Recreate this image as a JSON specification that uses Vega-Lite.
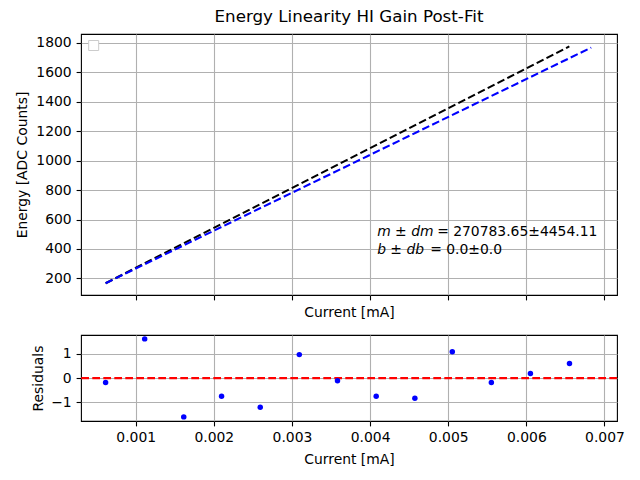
{
  "$schema": "https://vega.github.io/schema/vega-lite/v6.json",
  "padding": {"left": 14, "top": 8, "right": 5, "bottom": 5},
  "spacing": 14,
  "config": {
    "font": "DejaVu Sans",
    "view": {"stroke": "black", "strokeWidth": 1.1},
    "axis": {
      "labelFont": "DejaVu Sans", "labelFontSize": 13.9, "labelColor": "black",
      "titleFont": "DejaVu Sans", "titleFontSize": 13.9, "titleFontWeight": "normal", "titleColor": "black",
      "tickColor": "black", "tickSize": 4.9, "tickWidth": 1.1, "domain": false,
      "gridColor": "#b0b0b0", "gridWidth": 1.1, "gridOpacity": 1, "labelPadding": 4.9,
      "labelOverlap": false, "labelFlush": false
    }
  },
  "vconcat": [
    {
      "width": 536, "height": 261,
      "title": {"text": "Energy Linearity HI Gain Post-Fit", "font": "DejaVu Sans", "fontSize": 16.7, "fontWeight": "normal", "color": "black", "offset": 8, "frame": "group", "anchor": "middle"},
      "layer": [
        {
          "data": {"values": [
            {"current": 0.000615, "energy": 168, "series": "fit"},
            {"current": 0.00655, "energy": 1773.6, "series": "fit"},
            {"current": 0.000615, "energy": 168, "series": "data"},
            {"current": 0.00683, "energy": 1766, "series": "data"}
          ]},
          "mark": {"type": "line", "strokeDash": [7.7, 3.3], "strokeWidth": 2.08},
          "encoding": {
            "x": {"field": "current", "type": "quantitative", "scale": {"domain": [0.0003, 0.00716], "nice": false, "zero": false},
                  "axis": {"title": "Current [mA]", "values": [0.001, 0.002, 0.003, 0.004, 0.005, 0.006, 0.007], "tickCount": 20, "labels": false, "titlePadding": 5}},
            "y": {"field": "energy", "type": "quantitative", "scale": {"domain": [88, 1858], "nice": false, "zero": false},
                  "axis": {"title": "Energy [ADC Counts]", "values": [200, 400, 600, 800, 1000, 1200, 1400, 1600, 1800], "tickCount": 20, "format": "d", "labelOverlap": false, "labelFlush": false, "titleX": -59, "titleY": 130.5, "titleBaseline": "middle", "titleAlign": "center"}},
            "color": {"field": "series", "type": "nominal", "scale": {"domain": ["fit", "data"], "range": ["black", "blue"]}, "legend": null}
          }
        },
        {
          "data": {"values": [{"current": 0.000462, "energy": 1780}]},
          "mark": {"type": "square", "size": 100, "filled": true, "fill": "white", "stroke": "#cccccc", "strokeWidth": 1, "opacity": 1},
          "encoding": {
            "x": {"field": "current", "type": "quantitative"},
            "y": {"field": "energy", "type": "quantitative"}
          }
        },
        {
          "data": {"values": [
            {"current": 0.00409, "energy": 512, "line": 1, "lhs": "m ± dm", "rhs": "= 270783.65±4454.11"},
            {"current": 0.00409, "energy": 395, "line": 2, "lhs": "b ± db", "rhs": "= 0.0±0.0"}
          ]},
          "layer": [
            {
              "mark": {"type": "text", "font": "DejaVu Sans", "fontSize": 13.9, "fontStyle": "italic", "align": "left", "baseline": "middle", "color": "black"},
              "encoding": {
                "x": {"field": "current", "type": "quantitative"},
                "y": {"field": "energy", "type": "quantitative"},
                "text": {"field": "lhs"}
              }
            },
            {
              "transform": [{"filter": "datum.line == 1"}],
              "mark": {"type": "text", "font": "DejaVu Sans", "fontSize": 13.9, "align": "left", "baseline": "middle", "color": "black", "dx": 60},
              "encoding": {
                "x": {"field": "current", "type": "quantitative"},
                "y": {"field": "energy", "type": "quantitative"},
                "text": {"field": "rhs"}
              }
            },
            {
              "transform": [{"filter": "datum.line == 2"}],
              "mark": {"type": "text", "font": "DejaVu Sans", "fontSize": 13.9, "align": "left", "baseline": "middle", "color": "black", "dx": 53},
              "encoding": {
                "x": {"field": "current", "type": "quantitative"},
                "y": {"field": "energy", "type": "quantitative"},
                "text": {"field": "rhs"}
              }
            }
          ]
        }
      ]
    },
    {
      "width": 536, "height": 86,
      "layer": [
        {
          "data": {"values": [{"r": 0}]},
          "mark": {"type": "rule", "color": "red", "strokeDash": [7.7, 3.3], "strokeWidth": 2.08},
          "encoding": {
            "y": {"field": "r", "type": "quantitative", "scale": {"domain": [-1.77, 1.78], "nice": false, "zero": false}}
          }
        },
        {
          "data": {"values": [
            {"current": 0.000615, "residual": -0.18},
            {"current": 0.001115, "residual": 1.62},
            {"current": 0.001615, "residual": -1.6},
            {"current": 0.002099, "residual": -0.75},
            {"current": 0.002594, "residual": -1.2},
            {"current": 0.003094, "residual": 0.97},
            {"current": 0.003583, "residual": -0.11},
            {"current": 0.004078, "residual": -0.75},
            {"current": 0.004573, "residual": -0.83},
            {"current": 0.005052, "residual": 1.09},
            {"current": 0.005552, "residual": -0.18},
            {"current": 0.006052, "residual": 0.19},
            {"current": 0.006552, "residual": 0.6}
          ]},
          "mark": {"type": "circle", "size": 30, "color": "blue", "opacity": 1},
          "encoding": {
            "x": {"field": "current", "type": "quantitative", "scale": {"domain": [0.0003, 0.00716], "nice": false, "zero": false},
                  "axis": {"title": "Current [mA]", "values": [0.001, 0.002, 0.003, 0.004, 0.005, 0.006, 0.007], "tickCount": 20, "format": ".3f", "titlePadding": 8}},
            "y": {"field": "residual", "type": "quantitative", "scale": {"domain": [-1.77, 1.78], "nice": false, "zero": false},
                  "axis": {"title": "Residuals", "values": [-1, 0, 1], "tickCount": 20, "format": "d", "titleX": -43, "titleY": 43, "titleBaseline": "middle", "titleAlign": "center"}}
          }
        }
      ]
    }
  ]
}
